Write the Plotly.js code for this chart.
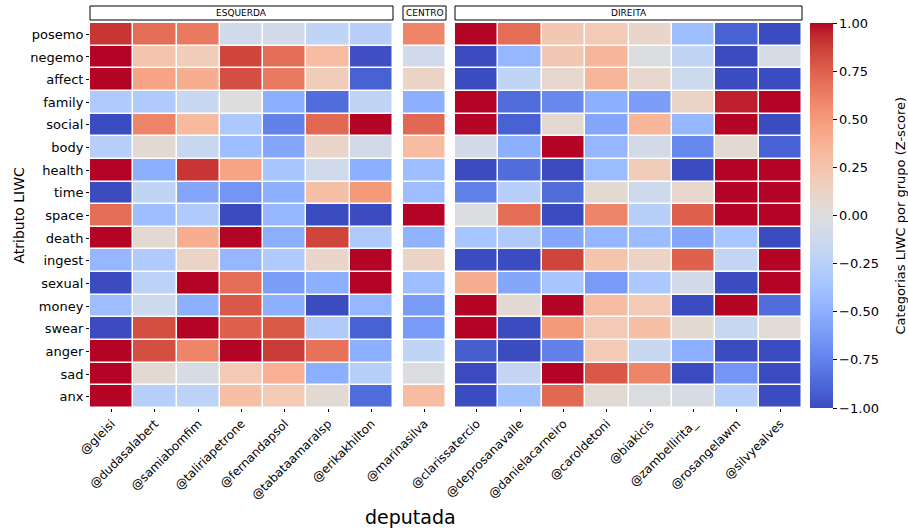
<!DOCTYPE html>
<html>
<head>
<meta charset="utf-8">
<script src="https://cdn.plot.ly/plotly-3.0.1.min.js"></script>
<style>html,body{margin:0;padding:0;background:#fff;}#chart{width:908px;height:530px;}</style>
</head>
<body>
<div id="chart"></div>
<script>
// Row categories (LIWC attributes)
const atributos = ["posemo","negemo","affect","family","social","body","health","time","space","death","ingest","sexual","money","swear","anger","sad","anx"];

// Columns by group
const esquerda = ["@gleisi","@dudasalabert","@samiabomfim","@taliriapetrone","@fernandapsol","@tabataamaralsp","@erikakhilton"];
const centro = ["@marinasilva"];
const direita = ["@clarissatercio","@deprosanavalle","@danielacarneiro","@caroldetoni","@biakicis","@zambellirita_","@rosangelawm","@silvyealves"];

// Z-scores: one row per attribute, one value per deputada
const zEsquerda = [
  [ 0.90,  0.70,  0.65, -0.10, -0.10, -0.20, -0.25], // posemo
  [ 1.00,  0.25,  0.18,  0.85,  0.70,  0.30, -0.98], // negemo
  [ 1.00,  0.45,  0.40,  0.82,  0.65,  0.18, -0.90], // affect
  [-0.30, -0.30, -0.15,  0.00, -0.50, -0.85, -0.20], // family
  [-1.00,  0.60,  0.32, -0.32, -0.75,  0.72,  1.00], // social
  [-0.25,  0.05, -0.15, -0.40, -0.55,  0.10, -0.08], // body
  [ 1.00, -0.50,  0.90,  0.45, -0.35, -0.10, -0.50], // health
  [-1.00, -0.20, -0.55, -0.65, -0.50,  0.28,  0.50], // time
  [ 0.70, -0.40, -0.30, -1.00, -0.45, -1.00, -1.00], // space
  [ 1.00,  0.05,  0.40,  1.00, -0.50,  0.85, -0.30], // death
  [-0.45, -0.30,  0.12, -0.45, -0.30,  0.10,  1.00], // ingest
  [-1.00, -0.22,  1.00,  0.70, -0.60, -0.50,  1.00], // sexual
  [-0.40, -0.12, -0.50,  0.78, -0.50, -1.00, -0.45], // money
  [-1.00,  0.82,  1.00,  0.75,  0.77, -0.30, -0.90], // swear
  [ 1.00,  0.82,  0.60,  1.00,  0.88,  0.68, -0.50], // anger
  [ 1.00,  0.05, -0.05,  0.20,  0.38, -0.50, -0.25], // sad
  [ 1.00, -0.25, -0.22,  0.28,  0.20,  0.05, -0.85]  // anx
];
const zCentro = [[0.60],[-0.10],[0.12],[-0.50],[0.72],[0.30],[-0.40],[-0.40],[1.00],[-0.48],[0.12],[-0.40],[-0.62],[-0.62],[-0.20],[-0.02],[0.30]];
const zDireita = [
  [ 1.00,  0.70,  0.22,  0.20,  0.10, -0.40, -0.90, -1.00], // posemo
  [-1.00, -0.45,  0.22,  0.35, -0.02, -0.20, -1.00, -0.05], // negemo
  [-1.00, -0.20,  0.08,  0.35,  0.08, -0.12, -1.00, -1.00], // affect
  [ 1.00, -0.85, -0.72, -0.50, -0.60,  0.12,  0.95,  1.00], // family
  [ 1.00, -0.90,  0.05, -0.55,  0.35, -0.45,  1.00, -1.00], // social
  [-0.08, -0.50,  1.00, -0.45, -0.08, -0.72,  0.05, -0.90], // body
  [-1.00, -0.85, -1.00, -0.42,  0.18, -1.00,  1.00,  1.00], // health
  [-0.75, -0.25, -0.85,  0.05, -0.12,  0.08,  1.00,  1.00], // time
  [-0.02,  0.70, -1.00,  0.60, -0.25,  0.75,  1.00,  1.00], // space
  [-0.35, -0.30, -0.55, -0.45, -0.42, -0.55, -0.35, -1.00], // death
  [-1.00, -1.00,  0.85,  0.25,  0.12,  0.75, -0.18,  1.00], // ingest
  [ 0.40, -0.55, -0.35, -0.62, -0.32, -0.08, -1.00,  1.00], // sexual
  [ 1.00,  0.05,  1.00,  0.30,  0.20, -1.00,  1.00, -0.85], // money
  [ 1.00, -1.00,  0.50,  0.20,  0.28,  0.05, -0.15,  0.03], // swear
  [-0.92, -1.00, -0.75,  0.20, -0.15, -0.50, -1.00, -1.00], // anger
  [-1.00, -0.18,  1.00,  0.78,  0.60, -1.00, -0.65, -1.00], // sad
  [-1.00, -0.38,  0.72,  0.05, -0.02, -0.05, -0.25, -1.00]  // anx
];

const grupos = ["ESQUERDA","CENTRO","DIREITA"];
const colorbarTicks = [-1,-0.75,-0.5,-0.25,0,0.25,0.5,0.75,1];

// matplotlib "coolwarm"
const coolwarm = [
 [0.0,'rgb(59,76,192)'],[0.03125,'rgb(68,90,204)'],[0.0625,'rgb(77,104,215)'],[0.09375,'rgb(87,117,225)'],
 [0.125,'rgb(98,130,234)'],[0.15625,'rgb(108,142,241)'],[0.1875,'rgb(119,154,247)'],[0.21875,'rgb(130,165,251)'],
 [0.25,'rgb(141,176,254)'],[0.28125,'rgb(152,185,255)'],[0.3125,'rgb(163,194,255)'],[0.34375,'rgb(174,201,253)'],
 [0.375,'rgb(184,208,249)'],[0.40625,'rgb(194,213,244)'],[0.4375,'rgb(204,217,238)'],[0.46875,'rgb(213,219,230)'],
 [0.5,'rgb(221,221,221)'],[0.53125,'rgb(229,216,209)'],[0.5625,'rgb(236,211,197)'],[0.59375,'rgb(241,204,184)'],
 [0.625,'rgb(245,196,173)'],[0.65625,'rgb(247,187,160)'],[0.6875,'rgb(247,177,148)'],[0.71875,'rgb(247,166,135)'],
 [0.75,'rgb(244,154,123)'],[0.78125,'rgb(241,141,111)'],[0.8125,'rgb(236,127,99)'],[0.84375,'rgb(229,112,88)'],
 [0.875,'rgb(222,96,77)'],[0.90625,'rgb(213,80,66)'],[0.9375,'rgb(203,62,56)'],[0.96875,'rgb(192,40,47)'],
 [1.0,'rgb(180,4,38)']
];

const FONT = "DejaVu Sans, sans-serif";
const common = {type:'heatmap', y: atributos, zmin:-1, zmax:1, colorscale: coolwarm, xgap:1.5, ygap:1.5, hoverongaps:false};

const traces = [
  Object.assign({}, common, {x: esquerda, z: zEsquerda, xaxis:'x', yaxis:'y', showscale:true,
    colorbar:{xref:'paper', x:(810-90)/712, xanchor:'left', yref:'paper', y:0.5, yanchor:'middle', len:1, lenmode:'fraction',
      thickness:23, thicknessmode:'pixels', outlinewidth:0, xpad:0, ypad:0, ticks:'outside', ticklen:4, tickwidth:1, tickcolor:'#000',
      tickvals: colorbarTicks, tickformat:'.2f', tickfont:{family:FONT, size:13, color:'#000'}}}),
  Object.assign({}, common, {x: centro, z: zCentro, xaxis:'x2', yaxis:'y', showscale:false}),
  Object.assign({}, common, {x: direita, z: zDireita, xaxis:'x3', yaxis:'y', showscale:false})
];

const d1 = [0, 303/712], d2 = [313/712, 356/712], d3 = [365/712, 1];
const xcommon = {type:'category', tickangle:-45, ticks:'outside', ticklen:3, tickcolor:'#000', showgrid:false, zeroline:false, showline:false,
  tickfont:{family:FONT, size:12, color:'#000'}, anchor:'y', fixedrange:true};

const stripTop = 1 + 17/385, stripBot = 1 + 3/385;
const shapes = [d1,d2,d3].map(d => ({type:'rect', xref:'paper', yref:'paper', x0:d[0], x1:d[1], y0:stripBot, y1:stripTop, line:{color:'#000', width:1}, fillcolor:'rgba(0,0,0,0)'}));
const annotations = [d1,d2,d3].map((d,i) => ({xref:'paper', yref:'paper', x:(d[0]+d[1])/2, y:(stripTop+stripBot)/2, text:grupos[i], showarrow:false, xanchor:'center', yanchor:'middle', font:{family:FONT, size:9, color:'#000'}}));
annotations.push({xref:'paper', yref:'paper', x:320/712, y:-109/385, text:'deputada', showarrow:false, xanchor:'center', yanchor:'middle', font:{family:FONT, size:19, color:'#000'}});
annotations.push({xref:'paper', yref:'paper', x:-72/712, y:0.5, text:'Atributo LIWC', showarrow:false, textangle:-90, xanchor:'center', yanchor:'middle', font:{family:FONT, size:14, color:'#000'}});
annotations.push({xref:'paper', yref:'paper', x:(900-90)/712, y:0.5, text:'Categorias LIWC por grupo (Z-score)', showarrow:false, textangle:-90, xanchor:'center', yanchor:'middle', font:{family:FONT, size:13, color:'#000'}});

const layout = {
  width:908, height:530,
  margin:{l:90, r:106, t:23, b:122, pad:0, autoexpand:false},
  paper_bgcolor:'#fff', plot_bgcolor:'#fff',
  font:{family:FONT, color:'#000'},
  xaxis: Object.assign({}, xcommon, {domain:d1, automargin:false}),
  xaxis2: Object.assign({}, xcommon, {domain:d2, automargin:false}),
  xaxis3: Object.assign({}, xcommon, {domain:d3, automargin:false}),
  yaxis: {type:'category', autorange:'reversed', ticks:'outside', ticklen:3, tickcolor:'#000', showgrid:false, zeroline:false, showline:false,
    tickfont:{family:FONT, size:13, color:'#000'}, anchor:'x', fixedrange:true, automargin:false},
  shapes: shapes,
  annotations: annotations,
  showlegend:false
};

Plotly.newPlot('chart', traces, layout, {displayModeBar:false, staticPlot:true});
</script>
</body>
</html>
